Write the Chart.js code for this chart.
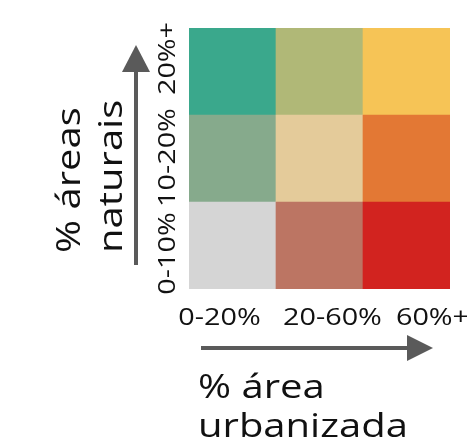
<!DOCTYPE html>
<html>
<head>
<meta charset="utf-8">
<script src="https://cdn.jsdelivr.net/npm/chart.js@4/dist/chart.umd.min.js"></script>
<style>
  html, body { margin: 0; padding: 0; background: #fff; }
  canvas { display: block; }
</style>
</head>
<body>
<canvas id="legendChart" width="467" height="442"></canvas>
<script>
/* Bivariate legend – % área urbanizada x % áreas naturais */

const xLabels = ['0-20%', '20-60%', '60%+'];
const yLabels = ['0-10%', '10-20%', '20%+'];
const xTitle = ['% área', 'urbanizada'];
const yTitle = ['% áreas', 'naturais'];

// one value per cell (each class occupies one unit of the grid)
const row0Values = [1, 1, 1];
const row1Values = [1, 1, 1];
const row2Values = [1, 1, 1];

// class colours, bottom row first
const row0Colors = ['#d5d5d5', '#bc7563', '#d2231f'];
const row1Colors = ['#86aa8c', '#e4cb9a', '#e37834'];
const row2Colors = ['#3aa88c', '#b0b877', '#f6c456'];

const FONT = '"Open Sans", "DejaVu Sans", sans-serif';
const INK = '#111';
const ARROW = '#5a5a5a';
const STRETCH = 1.25; // the original face is much wider than Open Sans

// text at (x, y), optionally rotated, widened along its own direction
function wideText(ctx, text, x, y, align, rot) {
    ctx.save();
    ctx.translate(x, y);
    if (rot) ctx.rotate(rot);
    ctx.scale(STRETCH, 1);
    ctx.textAlign = align;
    ctx.fillText(text, 0, 0);
    ctx.restore();
}

function drawArrow(ctx, x1, y1, x2, y2, head, halfW) {
    const ang = Math.atan2(y2 - y1, x2 - x1);
    const bx = x2 - head * Math.cos(ang);
    const by = y2 - head * Math.sin(ang);
    ctx.save();
    ctx.strokeStyle = ARROW;
    ctx.fillStyle = ARROW;
    ctx.lineWidth = 4;
    ctx.beginPath();
    ctx.moveTo(x1, y1);
    ctx.lineTo(bx, by);
    ctx.stroke();
    ctx.beginPath();
    ctx.moveTo(x2, y2);
    ctx.lineTo(bx - halfW * Math.sin(ang), by + halfW * Math.cos(ang));
    ctx.lineTo(bx + halfW * Math.sin(ang), by - halfW * Math.cos(ang));
    ctx.closePath();
    ctx.fill();
    ctx.restore();
}

const legendText = {
    id: 'legendText',
    afterDraw(chart) {
        const ctx = chart.ctx;
        const xs = chart.scales.x;
        const ys = chart.scales.y;
        const area = chart.chartArea;

        ctx.save();
        ctx.fillStyle = INK;
        ctx.textBaseline = 'alphabetic';

        // x tick labels
        const xShift = [-13, 13, 26];
        ctx.font = '400 23px ' + FONT;
        xLabels.forEach((lab, i) => {
            wideText(ctx, lab, xs.getPixelForValue(i) + xShift[i], area.bottom + 36, 'center', 0);
        });

        // y tick labels, rotated
        const yShift = [8, -1, -13];
        yLabels.forEach((lab, i) => {
            const cy = ys.getPixelForValue(i + 0.5) + yShift[i];
            wideText(ctx, lab, area.left - 14, cy, 'center', -Math.PI / 2);
        });

        // x axis title
        ctx.font = '400 32px ' + FONT;
        wideText(ctx, xTitle[0], area.left + 9, 398, 'left', 0);
        wideText(ctx, xTitle[1], area.left + 9, 437, 'left', 0);

        // y axis title, rotated
        wideText(ctx, yTitle[0], 80, 253, 'left', -Math.PI / 2);
        wideText(ctx, yTitle[1], 122, 253, 'left', -Math.PI / 2);

        ctx.restore();

        // arrows
        drawArrow(ctx, 136, 265, 136, 45, 27, 14);
        drawArrow(ctx, 201, 348, 433, 348, 26, 13);
    }
};

const ctx = document.getElementById('legendChart').getContext('2d');
new Chart(ctx, {
    type: 'bar',
    data: {
        labels: xLabels,
        datasets: [
            { label: yLabels[0], data: row0Values, backgroundColor: row0Colors },
            { label: yLabels[1], data: row1Values, backgroundColor: row1Colors },
            { label: yLabels[2], data: row2Values, backgroundColor: row2Colors }
        ].map(d => Object.assign(d, {
            stack: 'grid', borderWidth: 0, barPercentage: 1, categoryPercentage: 1
        }))
    },
    options: {
        responsive: false,
        animation: false,
        layout: { padding: { left: 189, right: 17, top: 28, bottom: 153 } },
        plugins: { legend: { display: false }, tooltip: { enabled: false } },
        scales: {
            x: { display: false, stacked: true },
            y: { display: false, stacked: true, min: 0, max: 3 }
        }
    },
    plugins: [legendText]
});
</script>
</body>
</html>
